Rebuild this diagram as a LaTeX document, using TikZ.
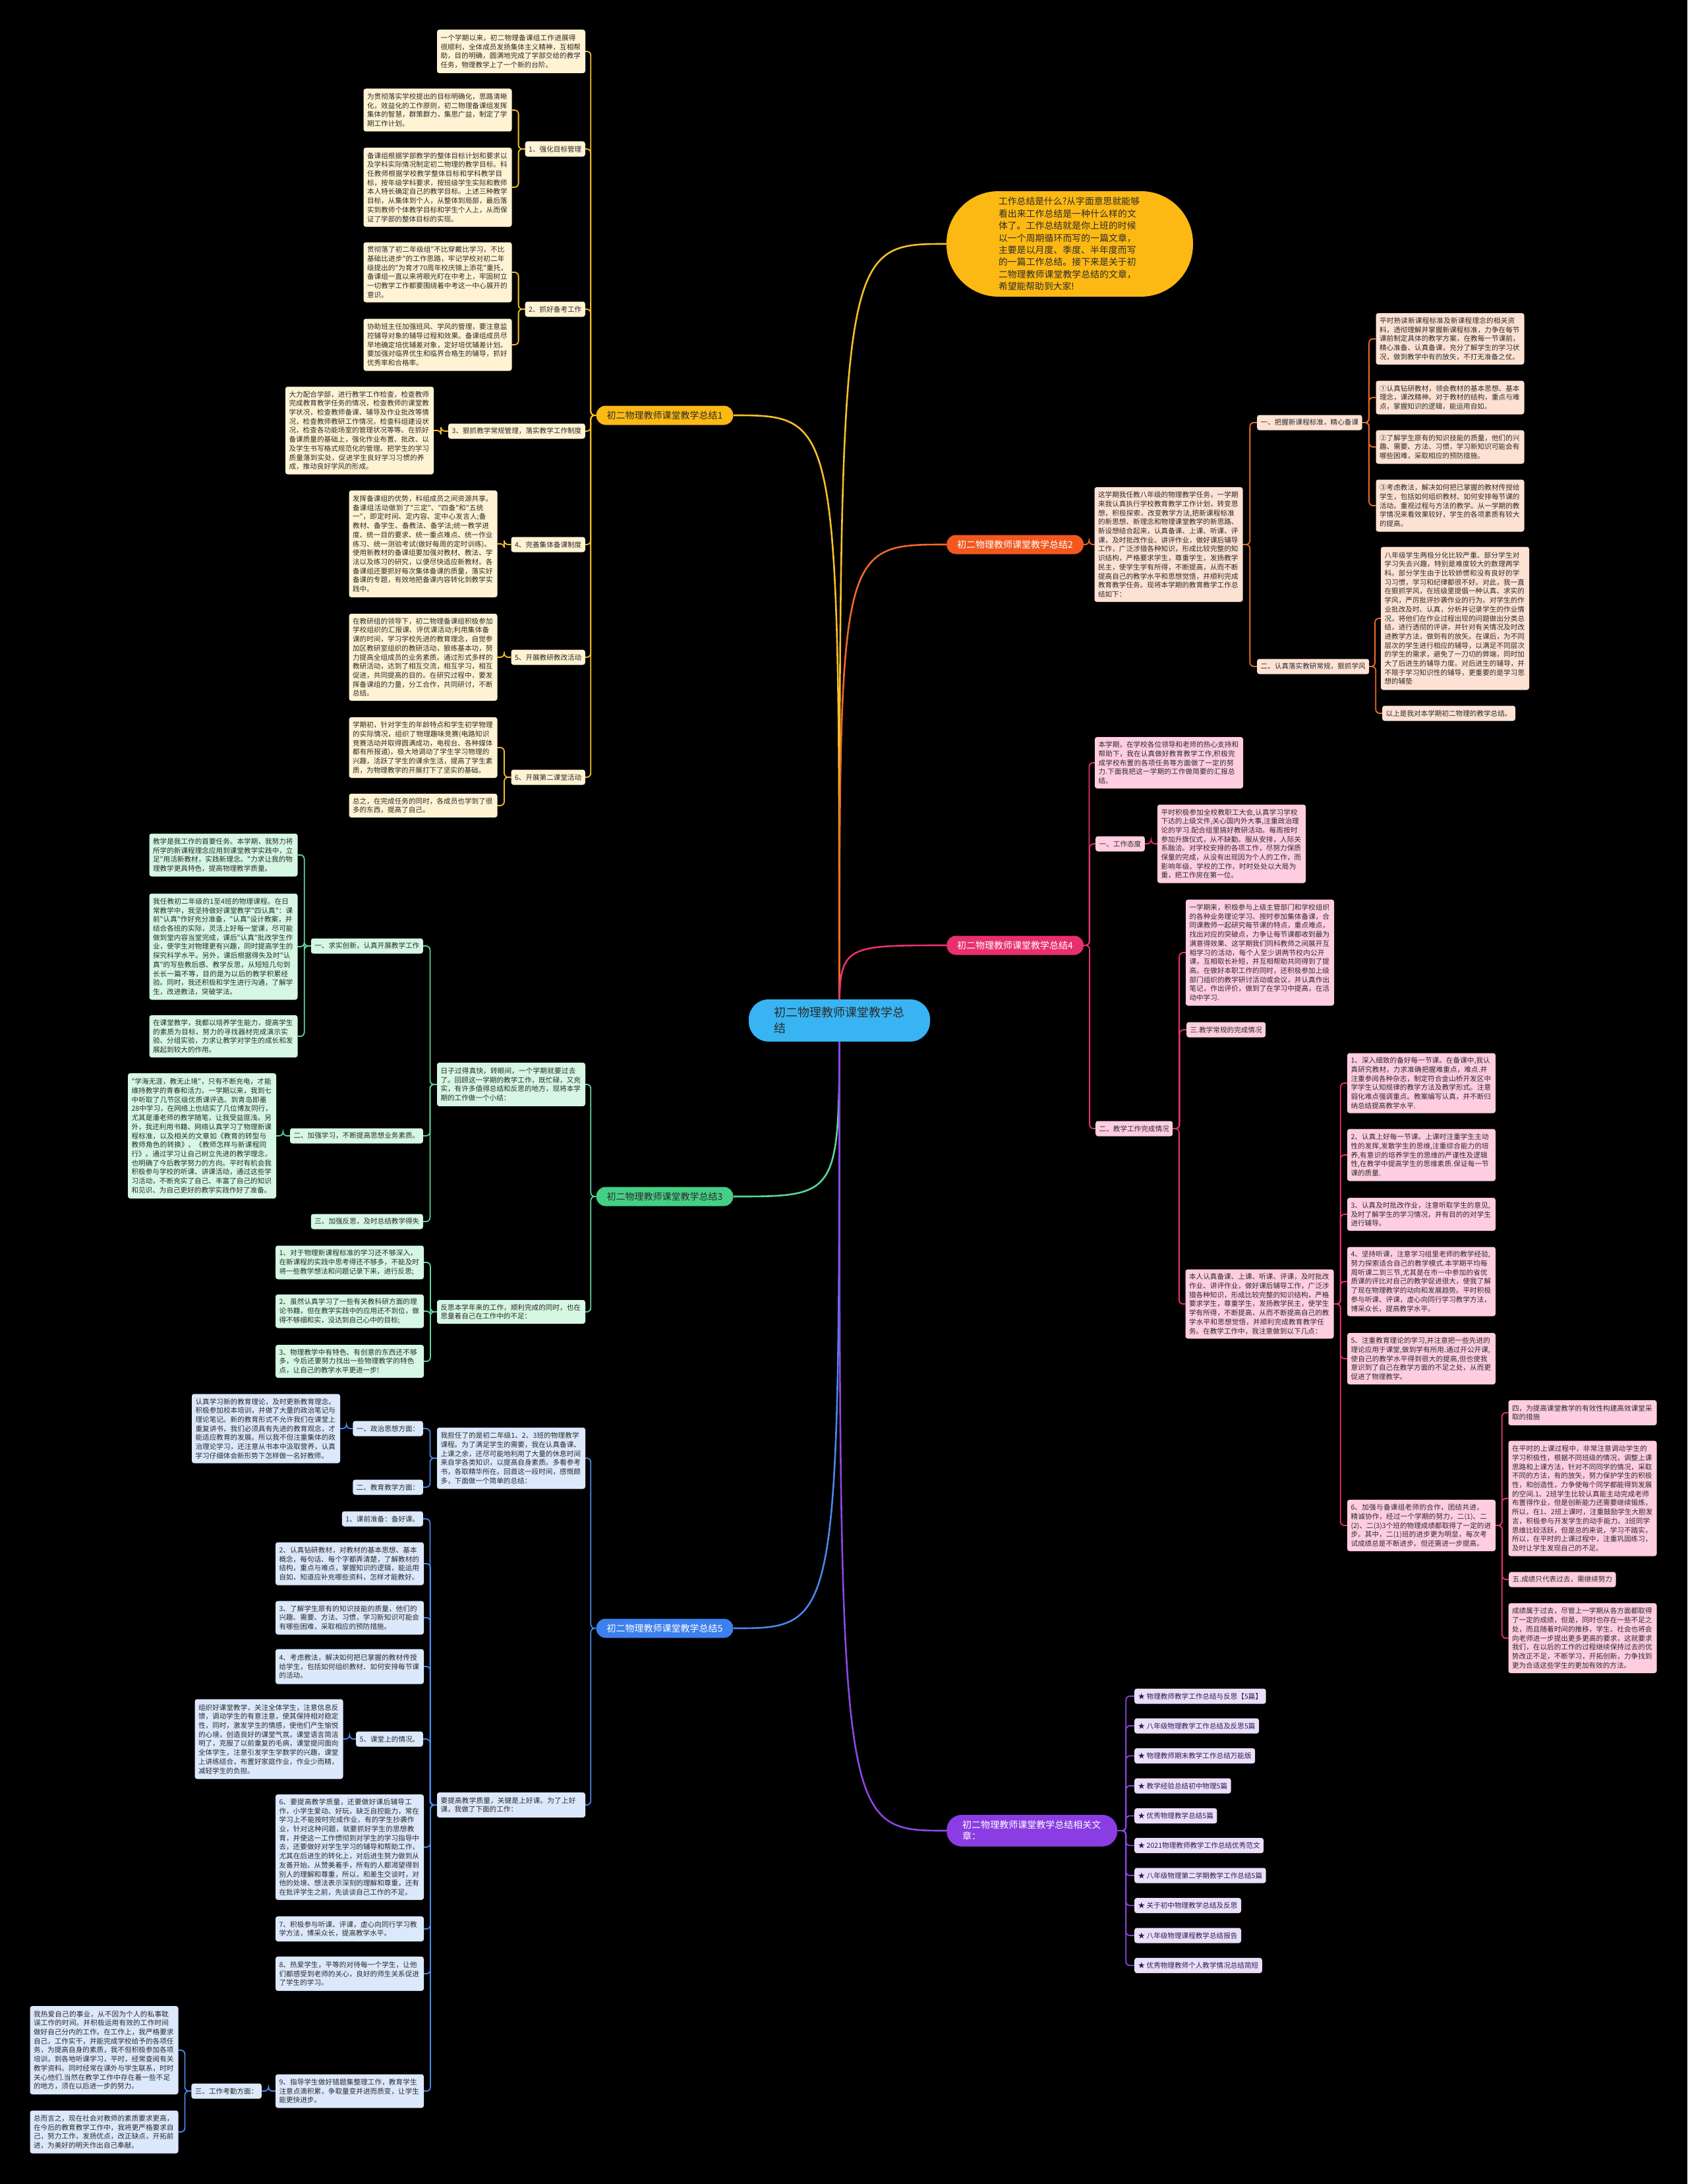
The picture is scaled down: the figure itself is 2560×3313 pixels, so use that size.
\documentclass[tikz,border=0pt]{standalone}
\usepackage{fontspec}
\newfontfamily\cjk{Noto Sans CJK SC}
\usetikzlibrary{calc}
\XeTeXlinebreaklocale "zh"
\XeTeXlinebreakskip=0pt plus 0.5pt
\setlength{\parindent}{0pt}
\pgfdeclarelayer{bg}\pgfdeclarelayer{lines}\pgfsetlayers{bg,lines,main}
\definecolor{tx}{HTML}{2B2B2B}
\definecolor{yline}{HTML}{F5C02A}\definecolor{ypill}{HTML}{FDB913}\definecolor{yfill}{HTML}{FFF3D4}
\definecolor{oline}{HTML}{F06A28}\definecolor{opill}{HTML}{F2581E}\definecolor{ofill}{HTML}{FDE2D4}
\definecolor{pline}{HTML}{E6336E}\definecolor{ppill}{HTML}{E8306C}\definecolor{pfill}{HTML}{FFCDE0}
\definecolor{gline}{HTML}{5CD49A}\definecolor{gpill}{HTML}{45CF86}\definecolor{gfill}{HTML}{D5F7E3}
\definecolor{bline}{HTML}{4A87EA}\definecolor{bpill}{HTML}{3C80EE}\definecolor{bfill}{HTML}{DCE8FB}
\definecolor{vline}{HTML}{8C47E4}\definecolor{vpill}{HTML}{8A3DE2}\definecolor{vfill}{HTML}{EADFF9}\definecolor{vtx}{HTML}{2E1B50}
\definecolor{cfill}{HTML}{38B4F2}
\newcommand\bxfont{\cjk\fontsize{10.6}{13.7}\selectfont}
\newcommand\pillfont{\cjk\fontsize{14}{17}\selectfont}
\newcommand\brL[3]{\draw[#1] (#2.west) -- ($(#2.west)!0.5!(#2.west-|#3.east)$) |- (#3.east);}
\newcommand\brR[3]{\draw[#1] (#2.east) -- ($(#2.east)!0.5!(#2.east-|#3.west)$) |- (#3.west);}
\tikzset{
 bx/.style={rounded corners=3.5pt, inner xsep=5.5pt, inner ysep=3pt, align=left, font=\bxfont, text=tx},
 wd/.style={text width=214pt},
 yb/.style={bx, fill=yfill}, ob/.style={bx, fill=ofill}, pb/.style={bx, fill=pfill},
 gb/.style={bx, fill=gfill}, bb/.style={bx, fill=bfill}, vb/.style={bx, fill=vfill, text=vtx},
 lab/.style={minimum height=23pt},
 pill/.style={rounded corners=14pt, inner xsep=16pt, minimum height=29pt, font=\pillfont},
 ycon/.style={draw=yline, line width=1.8pt, rounded corners=6pt},
 ocon/.style={draw=oline, line width=1.8pt, rounded corners=6pt},
 pcon/.style={draw=pline, line width=1.8pt, rounded corners=6pt},
 gcon/.style={draw=gline, line width=1.8pt, rounded corners=6pt},
 bcon/.style={draw=bline, line width=1.8pt, rounded corners=6pt},
 vcon/.style={draw=vline, line width=1.8pt, rounded corners=6pt},
 mainline/.style={line width=2.6pt},
}
\begin{document}
\begin{tikzpicture}[x=1pt,y=-1pt]
\begin{pgfonlayer}{bg}
\fill[black] (0,0) rectangle (2560,3313);
\end{pgfonlayer}
\useasboundingbox (0,0) rectangle (2560,3313);

% ---------- centre and intro ----------
\node[fill=cfill, rounded corners=30pt, inner xsep=38pt, minimum height=64pt, text width=199pt, align=left, font=\cjk\fontsize{18}{24}\selectfont, text=tx] (ctr) at (1273.5,1548) {初二物理教师课堂教学总结};
\node[fill=ypill, rounded corners=79pt, inner xsep=79pt, minimum height=160pt, text width=216pt, align=left, font=\cjk\fontsize{13.8}{18.4}\selectfont, text=tx] (intro) at (1623,370) {工作总结是什么?从字面意思就能够看出来工作总结是一种什么样的文体了。工作总结就是你上班的时候以一个周期循环而写的一篇文章，主要是以月度、季度、半年度而写的一篇工作总结。接下来是关于初二物理教师课堂教学总结的文章，希望能帮助到大家!};

% ---------- branch 1 (yellow) ----------
\node[pill,fill=ypill,text=tx] (b1) at (1008.5,630) {初二物理教师课堂教学总结1};
\node[yb,wd,minimum height=66pt] (n10) at (775.5,78) {一个学期以来，初二物理备课组工作进展得很顺利，全体成员发扬集体主义精神，互相帮助，目的明确，圆满地完成了学部交给的教学任务，物理教学上了一个新的台阶。};
\node[yb,lab,anchor=east] (n11) at (888,226) {1、强化目标管理};
\node[yb,wd,minimum height=65pt] (n11a) at (664,167) {为贯彻落实学校提出的目标明确化，思路清晰化，效益化的工作原则，初二物理备课组发挥集体的智慧，群策群力，集思广益，制定了学期工作计划。};
\node[yb,wd,minimum height=120pt] (n11b) at (664,284) {备课组根据学部教学的整体目标计划和要求以及学科实际情况制定初二物理的教学目标。科任教师根据学校教学整体目标和学科教学目标，按年级学科要求，按班级学生实际和教师本人特长确定自己的教学目标。上述三种教学目标，从集体到个人，从整体到局部，最后落实到教师个体教学目标和学生个人上，从而保证了学部的整体目标的实现。};
\node[yb,lab,anchor=east] (n12) at (888,469) {2、抓好备考工作};
\node[yb,wd,minimum height=91pt] (n12a) at (664,413) {贯彻落了初二年级组"不比穿戴比学习，不比基础比进步"的工作思路，牢记学校对初二年级提出的"为育才70周年校庆锦上添花"重托，备课组一直以来将眼光盯在中考上，牢固树立一切教学工作都要围绕着中考这一中心展开的意识。};
\node[yb,wd,minimum height=79pt] (n12b) at (664,523) {协助班主任加强班风、学风的管理，要注意监控辅导对象的辅导过程和效果。备课组成员尽早地确定培优辅差对象，定好培优辅差计划。要加强对临界优生和临界合格生的辅导，抓好优秀率和合格率。};
\node[yb,lab,anchor=east] (n13) at (888,654) {3、狠抓教学常规管理，落实教学工作制度};
\node[yb,wd,minimum height=133pt] (n13a) at (545.5,653) {大力配合学部，进行教学工作检查，检查教师完成教育教学任务的情况，检查教师的课堂教学状况，检查教师备课、辅导及作业批改等情况，检查教师教研工作情况，检查科组建设状况，检查各功能场室的管理状况等等。在抓好备课质量的基础上，强化作业布置、批改、以及学生书写格式规范化的管理。把学生的学习质量落到实处，促进学生良好学习习惯的养成，推动良好学风的形成。};
\node[yb,lab,anchor=east] (n14) at (888,826) {4、完善集体备课制度};
\node[yb,wd,minimum height=162pt] (n14a) at (642,825) {发挥备课组的优势，科组成员之间资源共享。备课组活动做到了"三定"、"四备"和"五统一"，即定时间、定内容、定中心发言人;备教材、备学生、备教法、备学法;统一教学进度、统一目的要求、统一重点难点、统一作业练习、统一测验考试(做好每周的定时训练)。使用新教材的备课组要加强对教材、教法、学法以及练习的研究，以便尽快适应新教材。各备课组还要抓好每次集体备课的质量，落实好备课的专题，有效地把备课内容转化到教学实践中。};
\node[yb,lab,anchor=east] (n15) at (888,997) {5、开展教研教改活动};
\node[yb,wd,minimum height=132pt] (n15a) at (642,997) {在教研组的领导下，初二物理备课组积极参加学校组织的汇报课、评优课活动;利用集体备课的时间，学习学校先进的教育理念，自觉参加区教研室组织的教研活动，狠练基本功，努力提高全组成员的业务素质。通过形式多样的教研活动，达到了相互交流，相互学习，相互促进，共同提高的目的。在研究过程中，要发挥备课组的力量，分工合作，共同研讨，不断总结。};
\node[yb,lab,anchor=east] (n16) at (888,1179) {6、开展第二课堂活动};
\node[yb,wd,minimum height=92pt] (n16a) at (642,1134) {学期初，针对学生的年龄特点和学生初学物理的实际情况，组织了物理趣味竞赛(电路知识竞赛活动并取得圆满成功，电视台、各种媒体都有所报道)，极大地调动了学生学习物理的兴趣，活跃了学生的课余生活，提高了学生素质，为物理教学的开展打下了坚实的基础。};
\node[yb,wd,minimum height=36pt] (n16b) at (642,1222) {总之，在完成任务的同时，各成员也学到了很多的东西，提高了自己。};

% ---------- branch 3 (green) ----------
\node[pill,fill=gpill,text=tx] (b3) at (1008.5,1815) {初二物理教师课堂教学总结3};
\node[gb,wd,minimum height=66pt] (n31) at (775.5,1645) {日子过得真快，转眼间，一个学期就要过去了。回顾这一学期的教学工作，既忙碌，又充实，有许多值得总结和反思的地方，现将本学期的工作做一个小结：};
\node[gb,lab,anchor=east] (l31) at (642,1435) {一、求实创新，认真开展教学工作};
\node[gb,wd,minimum height=65pt] (p31a) at (339,1297) {教学是我工作的首要任务。本学期，我努力将所学的新课程理念应用到课堂教学实践中，立足"用活新教材，实践新理念。"力求让我的物理教学更具特色，提高物理教学质量。};
\node[gb,wd,minimum height=161pt] (p31b) at (339,1436) {我任教初二年级的1至4班的物理课程。在日常教学中，我坚持做好课堂教学"四认真"：课前"认真"作好充分准备，"认真"设计教案，并结合各班的实际，灵活上好每一堂课，尽可能做到堂内容当堂完成，课后"认真"批改学生作业，使学生对物理更有兴趣，同时提高学生的探究科学水平。另外，课后根据得失及时"认真"的写些教后感、教学反思，从短短几句到长长一篇不等，目的是为以后的教学积累经验。同时，我还积极和学生进行沟通，了解学生，改进教法，突破学法。};
\node[gb,wd,minimum height=64pt] (p31c) at (339,1572) {在课堂教学，我都以培养学生能力，提高学生的素质为目标，努力的寻找器材完成演示实验、分组实验，力求让教学对学生的成长和发展起到较大的作用。};
\node[gb,lab,anchor=east] (l32) at (642,1723) {二、加强学习，不断提高思想业务素质。};
\node[gb,wd,minimum height=190pt] (p32a) at (306.5,1723) {"学海无涯，教无止境"，只有不断充电，才能维持教学的青春和活力。一学期以来，我到七中听取了几节区级优质课评选、到青岛即墨28中学习，在网络上也结实了几位博友同行，尤其是潘老师的教学随笔，让我受益匪浅。另外，我还利用书籍、网络认真学习了物理新课程标准，以及相关的文章如《教育的转型与教师角色的转换》、《教师怎样与新课程同行》。通过学习让自己树立先进的教学理念，也明确了今后教学努力的方向。平时有机会我积极参与学校的听课、讲课活动，通过这些学习活动，不断充实了自己、丰富了自己的知识和见识、为自己更好的教学实践作好了准备。};
\node[gb,lab,anchor=east] (l33) at (642,1853) {三、加强反思，及时总结教学得失};
\node[gb,wd,minimum height=36pt] (n32) at (775.5,1990) {反思本学年来的工作，顺利完成的同时，也在思量着自己在工作中的不足：};
\node[gb,wd,minimum height=51pt] (p33a) at (530.5,1915) {1、对于物理新课程标准的学习还不够深入，在新课程的实践中思考得还不够多，不能及时将一些教学想法和问题记录下来，进行反思;};
\node[gb,wd,minimum height=51pt] (p33b) at (530.5,1989) {2、虽然认真学习了一些有关教科研方面的理论书籍，但在教学实践中的应用还不到位，做得不够细和实，没达到自己心中的目标;};
\node[gb,wd,minimum height=50pt] (p33c) at (530.5,2065) {3、物理教学中有特色、有创意的东西还不够多，今后还要努力找出一些物理教学的特色点，让自己的教学水平更进一步!};

% ---------- branch 5 (blue) ----------
\node[pill,fill=bpill,text=white] (b5) at (1008.5,2470) {初二物理教师课堂教学总结5};
\node[bb,wd,minimum height=93pt] (n51) at (775.5,2212) {我担任了的是初二年级1、2、3班的物理教学课程。为了满足学生的需要，我在认真备课、上课之余，还尽可能地利用了大量的休息时间来自学各类知识，以提高自身素质。多看参考书，各取精华所在。回首这一段时间，感慨颇多，下面做一个简单的总结：};
\node[bb,lab,anchor=east] (l51) at (642,2167) {一、政治思想方面：};
\node[bb,wd,minimum height=105pt] (p51a) at (403.5,2167) {认真学习新的教育理论，及时更新教育理念。积极参加校本培训，并做了大量的政治笔记与理论笔记。新的教育形式不允许我们在课堂上重复讲书，我们必须具有先进的教育观念，才能适应教育的发展。所以我不但注重集体的政治理论学习，还注意从书本中汲取营养，认真学习仔细体会新形势下怎样做一名好教师。};
\node[bb,lab,anchor=east] (l52) at (642,2256) {二、教育教学方面：};
\node[bb,wd,minimum height=38pt] (n52) at (775.5,2738) {要提高教学质量，关键是上好课。为了上好课，我做了下面的工作：};
\node[bb,lab,anchor=east] (q1) at (642,2304) {1、课前准备：备好课。};
\node[bb,wd,minimum height=65pt] (q2) at (530.5,2372) {2、认真钻研教材，对教材的基本思想、基本概念，每句话、每个字都弄清楚，了解教材的结构，重点与难点，掌握知识的逻辑，能运用自如，知道应补充哪些资料，怎样才能教好。};
\node[bb,wd,minimum height=51pt] (q3) at (530.5,2454) {3、了解学生原有的知识技能的质量，他们的兴趣、需要、方法、习惯，学习新知识可能会有哪些困难，采取相应的预防措施。};
\node[bb,wd,minimum height=53pt] (q4) at (530.5,2528) {4、考虑教法，解决如何把已掌握的教材传授给学生，包括如何组织教材、如何安排每节课的活动。};
\node[bb,lab,anchor=east] (q5) at (642,2638) {5、课堂上的情况。};
\node[bb,wd,minimum height=121pt] (p55) at (408,2638) {组织好课堂教学，关注全体学生，注意信息反馈，调动学生的有意注意，使其保持相对稳定性，同时，激发学生的情感，使他们产生愉悦的心境，创造良好的课堂气氛，课堂语言简洁明了，克服了以前重复的毛病，课堂提问面向全体学生，注意引发学生学数学的兴趣，课堂上讲练结合，布置好家庭作业，作业少而精，减轻学生的负担。};
\node[bb,wd,minimum height=160pt] (q6) at (530.5,2802) {6、要提高教学质量，还要做好课后辅导工作，小学生爱动、好玩，缺乏自控能力，常在学习上不能按时完成作业，有的学生抄袭作业，针对这种问题，就要抓好学生的思想教育，并使这一工作惯彻到对学生的学习指导中去，还要做好对学生学习的辅导和帮助工作，尤其在后进生的转化上，对后进生努力做到从友善开始。从赞美着手，所有的人都渴望得到别人的理解和尊重，所以，和差生交谈时，对他的处境、想法表示深刻的理解和尊重，还有在批评学生之前，先谈谈自己工作的不足。};
\node[bb,wd,minimum height=38pt] (q7) at (530.5,2926) {7、积极参与听课、评课，虚心向同行学习教学方法，博采众长，提高教学水平。};
\node[bb,wd,minimum height=52pt] (q8) at (530.5,2994) {8、热爱学生，平等的对待每一个学生，让他们都感受到老师的关心，良好的师生关系促进了学生的学习。};
\node[bb,wd,minimum height=51pt] (q9) at (530.5,3172) {9、指导学生做好错题集整理工作，教育学生注意点滴积累，争取量变并进而质变，让学生能更快进步。};
\node[bb,lab,anchor=east] (l53) at (397,3172) {三、工作考勤方面：};
\node[bb,wd,minimum height=134pt] (p59a) at (158,3110) {我热爱自己的事业，从不因为个人的私事耽误工作的时间。并积极运用有效的工作时间做好自己分内的工作。在工作上，我严格要求自己，工作实干，并能完成学校给予的各项任务，为提高自身的素质，我不但积极参加各项培训，到各地听课学习，平时，经常查阅有关教学资料。同时经常在课外与学生联系，时时关心他们.当然在教学工作中存在着一些不足的地方，须在以后进一步的努力。};
\node[bb,wd,minimum height=65pt] (p59b) at (158,3234) {总而言之，现在社会对教师的素质要求更高，在今后的教育教学工作中，我将更严格要求自己，努力工作，发扬优点，改正缺点，开拓前进，为美好的明天作出自己奉献。};

% ---------- branch 2 (orange) ----------
\node[pill,fill=opill,text=white,anchor=west] (b2) at (1436,826) {初二物理教师课堂教学总结2};
\node[ob,wd,minimum height=174pt] (n20) at (1773,826) {这学期我任教八年级的物理教学任务，一学期来我认真执行学校教育教学工作计划，转变思想，积极探索，改变教学方法,把新课程标准的新思想、新理念和物理课堂教学的新思路、新设想结合起来，认真备课、上课、听课、评课，及时批改作业、讲评作业，做好课后辅导工作，广泛涉猎各种知识，形成比较完整的知识结构，严格要求学生，尊重学生，发扬教学民主，使学生学有所得，不断提高，从而不断提高自己的教学水平和思想觉悟，并顺利完成教育教学任务。现将本学期的教育教学工作总结如下：};
\node[ob,lab,anchor=west] (l21) at (1907,641) {一、把握新课程标准，精心备课};
\node[ob,wd,minimum height=78pt] (p21a) at (2200,514) {平时熟读新课程标准及新课程理念的相关资料，透彻理解并掌握新课程标准，力争在每节课前制定具体的教学方案，在教每一节课前，精心准备、认真备课，充分了解学生的学习状况，做到教学中有的放矢，不打无准备之仗。};
\node[ob,wd,minimum height=51pt] (p21b) at (2200,603) {①认真钻研教材，领会教材的基本思想、基本理念，课改精神。对于教材的结构，重点与难点，掌握知识的逻辑，能运用自如。};
\node[ob,wd,minimum height=51pt] (p21c) at (2200,678) {②了解学生原有的知识技能的质量，他们的兴趣、需要、方法、习惯，学习新知识可能会有哪些困难，采取相应的预防措施。};
\node[ob,wd,minimum height=79pt] (p21d) at (2200,767) {③考虑教法，解决如何把已掌握的教材传授给学生，包括如何组织教材、如何安排每节课的活动。重视过程与方法的教学。从一学期的教学情况来看效果较好，学生的各项素质有较大的提高。};
\node[ob,lab,anchor=west] (l22) at (1907,1011) {二、认真落实教研常规，狠抓学风};
\node[ob,wd,minimum height=217pt] (p22a) at (2207.5,938) {八年级学生两极分化比较严重、部分学生对学习失去兴趣，特别是难度较大的数理两学科。部分学生由于比较娇惯和没有良好的学习习惯，学习和纪律都很不好。对此，我一直在狠抓学风，在班级里提倡一种认真、求实的学风，严厉批评抄袭作业的行为。对学生的作业批改及时、认真，分析并记录学生的作业情况，将他们在作业过程出现的问题做出分类总结，进行透彻的评讲，并针对有关情况及时改进教学方法，做到有的放矢。在课后，为不同层次的学生进行相应的辅导，以满足不同层次的学生的需求，避免了一刀切的弊端，同时加大了后进生的辅导力度。对后进生的辅导，并不限于学习知识性的辅导，更重要的是学习思想的辅垫};
\node[ob,lab,anchor=west] (p22b) at (2097,1082) {以上是我对本学期初二物理的教学总结。};

% ---------- branch 4 (pink) ----------
\node[pill,fill=ppill,text=white,anchor=west] (b4) at (1436,1434) {初二物理教师课堂教学总结4};
\node[pb,wd,minimum height=78pt] (n40) at (1773.5,1157) {本学期，在学校各位领导和老师的热心支持和帮助下，我在认真做好教育教学工作,积极完成学校布置的各项任务等方面做了一定的努力.下面我把这一学期的工作做简要的汇报总结。};
\node[pb,lab,anchor=west] (l41) at (1662,1280) {一、工作态度};
\node[pb,wd,minimum height=119pt] (p41a) at (1868.5,1280) {平时积极参加全校教职工大会,认真学习学校下达的上级文件,关心国内外大事,注重政治理论的学习.配合组里搞好教研活动。每周按时参加升旗仪式，从不缺勤。服从安排，人际关系融洽。对学校安排的各项工作，尽努力保质保量的完成，从没有出现因为个人的工作，而影响年级、学校的工作，时时处处以大局为重，把工作房在第一位。};
\node[pb,lab,anchor=west] (l42) at (1662,1712) {二、教学工作完成情况};
\node[pb,wd,minimum height=161pt] (p42a) at (1911.5,1445) {一学期来，积极参与上级主管部门和学校组织的各种业务理论学习、按时参加集体备课，合同课教师一起研究每节课的特点，重点难点，找出对应的突破点，力争让每节课都收到最为满意得效果、这学期我们同科教师之间展开互相学习的活动，每个人至少讲两节校内公开课，互相取长补短，并互相帮助共同得到了提高。在做好本职工作的同时，还积极参加上级部门组织的教学研讨活动或会议，并认真作出笔记，作出评价，做到了在学习中提高，在活动中学习.};
\node[pb,lab,anchor=west] (l43) at (1800,1562) {三.教学常规的完成情况};
\node[pb,wd,minimum height=105pt] (n41) at (1911,1978) {本人认真备课、上课、听课、评课，及时批改作业、讲评作业，做好课后辅导工作，广泛涉猎各种知识，形成比较完整的知识结构，严格要求学生，尊重学生，发扬教学民主，使学生学有所得，不断提高，从而不断提高自己的教学水平和思想觉悟，并顺利完成教育教学任务。在教学工作中，我注意做到以下几点：};
\node[pb,wd,minimum height=91pt] (r1) at (2156.5,1643) {1、深入细致的备好每一节课。在备课中,我认真研究教材，力求准确把握难重点，难点.并注重参阅各种杂志，制定符合金山桥开发区中学学生认知规律的教学方法及教学形式。注意弱化难点强调重点。教案编写认真，并不断归纳总结提高教学水平.};
\node[pb,wd,minimum height=79pt] (r2) at (2156.5,1752) {2、认真上好每一节课。上课时注重学生主动性的发挥,发散学生的思维,注重综合能力的培养,有意识的培养学生的思维的严谨性及逻辑性,在教学中提高学生的思维素质.保证每一节课的质量.};
\node[pb,wd,minimum height=50pt] (r3) at (2156.5,1842) {3、认真及时批改作业，注意听取学生的意见,及时了解学生的学习情况，并有目的的对学生进行辅导。};
\node[pb,wd,minimum height=105pt] (r4) at (2156.5,1944) {4、坚持听课，注意学习组里老师的教学经验,努力探索适合自己的教学模式.本学期平均每周听课二到三节,尤其是在市一中参加的省优质课的评比对自己的教学促进很大，使我了解了现在物理教学的动向和发展趋势。平时积极参与听课、评课，虚心向同行学习教学方法，博采众长，提高教学水平。};
\node[pb,wd,minimum height=78pt] (r5) at (2156.5,2061) {5、注重教育理论的学习,并注意把一些先进的理论应用于课堂,做到学有所用.通过开公开课,使自己的教学水平得到很大的提高,但也使我意识到了自己在教学方面的不足之处，从而更促进了物理教学。};
\node[pb,wd,minimum height=78pt] (r6) at (2156.5,2314) {6、加强与备课组老师的合作，团结共进，精诚协作，经过一个学期的努力，二(1)、二(2)、二(3)3个班的物理成绩都取得了一定的进步。其中，二(1)班的进步更为明显，每次考试成绩总是不断进步。但还需进一步提高。};
\node[pb,wd,minimum height=38pt] (s1) at (2401,2143) {四，为提高课堂教学的有效性构建高效课堂采取的措施};
\node[pb,wd,minimum height=175pt] (s2) at (2401,2273) {在平时的上课过程中，非常注意调动学生的学习积极性，根据不同班级的情况，调整上课思路和上课方法，针对不同同学的情况，采取不同的方法，有的放矢，努力保护学生的积极性，和创造性，力争使每个同学都能得到发展的空间.1、2班学生比较认真能主动完成老师布置得作业，但是创新能力还需要继续锻炼，所以，在1、2班上课时，注重鼓励学生大胆发言，积极参与开发学生的动手能力。3班同学思维比较活跃，但是总的来说，学习不踏实，所以，在平时的上课过程中，注重巩固练习，及时让学生发现自己的不足。};
\node[pb,lab,anchor=west] (s3) at (2289,2396) {五.成绩只代表过去，需继续努力};
\node[pb,wd,minimum height=106pt] (s4) at (2401,2485) {成绩属于过去，尽管上一学期从各方面都取得了一定的成绩，但是，同时也存在一些不足之处，而且随着时间的推移，学生、社会也将会向老师进一步提出更多更高的要求，这就要求我们，在以后的工作的过程继续保持过去的优势改正不足，不断学习，开拓创新，力争找到更为合适这些学生的更加有效的方法。};

% ---------- branch 6 (purple) ----------
\node[fill=vpill, rounded corners=23pt, inner xsep=24pt, minimum height=48pt, text width=211pt, align=left, font=\pillfont, text=white, anchor=west] (b6) at (1436,2777) {初二物理教师课堂教学总结相关文章：};
\node[vb,lab,anchor=west] (v1) at (1721,2573) {★ 物理教师教学工作总结与反思【5篇】};
\node[vb,lab,anchor=west] (v2) at (1721,2618) {★ 八年级物理教学工作总结及反思5篇};
\node[vb,lab,anchor=west] (v3) at (1721,2663.5) {★ 物理教师期末教学工作总结万能版};
\node[vb,lab,anchor=west] (v4) at (1721,2709) {★ 教学经验总结初中物理5篇};
\node[vb,lab,anchor=west] (v5) at (1721,2754.5) {★ 优秀物理教学总结5篇};
\node[vb,lab,anchor=west] (v6) at (1721,2799.5) {★ 2021物理教师教学工作总结优秀范文};
\node[vb,lab,anchor=west] (v7) at (1721,2845) {★ 八年级物理第二学期教学工作总结5篇};
\node[vb,lab,anchor=west] (v8) at (1721,2890.5) {★ 关于初中物理教学总结及反思};
\node[vb,lab,anchor=west] (v9) at (1721,2936) {★ 八年级物理课程教学总结报告};
\node[vb,lab,anchor=west] (v10) at (1721,2981.5) {★ 优秀物理教师个人教学情况总结简短};

% ---------- connectors ----------
\begin{pgfonlayer}{lines}
\draw[mainline,draw=yline] (ctr.center) .. controls (ctr.center |- intro.west) .. (intro.west);
\draw[mainline,draw=yline] (ctr.center) .. controls (ctr.center |- b1.east) .. (b1.east);
\draw[mainline,draw=oline] (ctr.center) .. controls (ctr.center |- b2.west) .. (b2.west);
\draw[mainline,draw=pline] (ctr.center) .. controls (ctr.center |- b4.west) .. (b4.west);
\draw[mainline,draw=gline] (ctr.center) .. controls (ctr.center |- b3.east) .. (b3.east);
\draw[mainline,draw=bline] (ctr.center) .. controls (ctr.center |- b5.east) .. (b5.east);
\draw[mainline,draw=vline] (ctr.center) .. controls (ctr.center |- b6.west) .. (b6.west);
% yellow
\foreach \c in {n10,n11,n12,n13,n14,n15,n16} {\brL{ycon}{b1}{\c}}
\brL{ycon}{n11}{n11a}\brL{ycon}{n11}{n11b}
\brL{ycon}{n12}{n12a}\brL{ycon}{n12}{n12b}
\brL{ycon}{n13}{n13a}\brL{ycon}{n14}{n14a}\brL{ycon}{n15}{n15a}
\brL{ycon}{n16}{n16a}\brL{ycon}{n16}{n16b}
% green
\brL{gcon}{b3}{n31}\brL{gcon}{b3}{n32}
\brL{gcon}{n31}{l31}\brL{gcon}{n31}{l32}\brL{gcon}{n31}{l33}
\brL{gcon}{l31}{p31a}\brL{gcon}{l31}{p31b}\brL{gcon}{l31}{p31c}
\brL{gcon}{l32}{p32a}
\brL{gcon}{n32}{p33a}\brL{gcon}{n32}{p33b}\brL{gcon}{n32}{p33c}
% blue
\brL{bcon}{b5}{n51}\brL{bcon}{b5}{n52}
\brL{bcon}{n51}{l51}\brL{bcon}{n51}{l52}\brL{bcon}{l51}{p51a}
\foreach \c in {q1,q2,q3,q4,q5,q6,q7,q8,q9} {\brL{bcon}{n52}{\c}}
\brL{bcon}{q5}{p55}\brL{bcon}{q9}{l53}
\brL{bcon}{l53}{p59a}\brL{bcon}{l53}{p59b}
% orange
\brR{ocon}{b2}{n20}\brR{ocon}{n20}{l21}\brR{ocon}{n20}{l22}
\foreach \c in {p21a,p21b,p21c,p21d} {\brR{ocon}{l21}{\c}}
\brR{ocon}{l22}{p22a}\brR{ocon}{l22}{p22b}
% pink
\brR{pcon}{b4}{n40}\brR{pcon}{b4}{l41}\brR{pcon}{b4}{l42}
\brR{pcon}{l41}{p41a}
\brR{pcon}{l42}{p42a}\brR{pcon}{l42}{l43}\brR{pcon}{l42}{n41}
\foreach \c in {r1,r2,r3,r4,r5,r6} {\brR{pcon}{n41}{\c}}
\foreach \c in {s1,s2,s3,s4} {\brR{pcon}{r6}{\c}}
% purple
\foreach \c in {v1,v2,v3,v4,v5,v6,v7,v8,v9,v10} {\brR{vcon}{b6}{\c}}
\end{pgfonlayer}
\end{tikzpicture}
\end{document}
